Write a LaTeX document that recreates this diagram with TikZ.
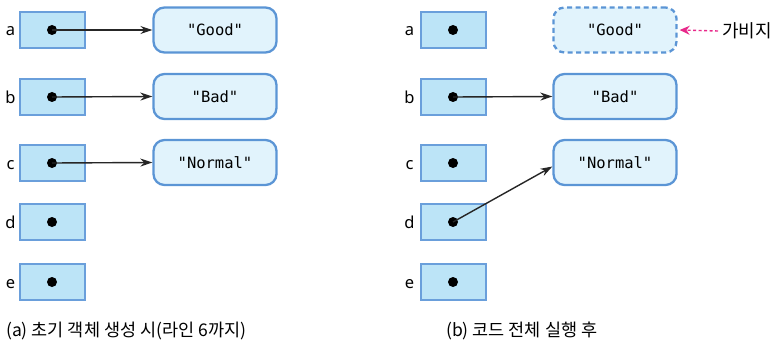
\documentclass[tikz,border=0pt]{standalone}
\usepackage{fontspec}
\setmainfont{Noto Sans}
\setmonofont{DejaVu Sans Mono}
\newfontfamily\kr{Noto Sans CJK KR}
\usetikzlibrary{arrows.meta}
\definecolor{varfill}{HTML}{BCE4F7}
\definecolor{varline}{HTML}{6A9FDB}
\definecolor{valfill}{HTML}{E1F3FC}
\definecolor{valline}{HTML}{5B95D5}
\definecolor{garb}{HTML}{E8288A}
\begin{document}
\begin{tikzpicture}[x=1pt,y=-1pt,
  varbox/.style={draw=varline,fill=varfill,line width=1.8pt,minimum width=65pt,minimum height=36pt,inner sep=0pt},
  valbox/.style={draw=valline,fill=valfill,line width=2.3pt,rounded corners=11pt,minimum width=123pt,minimum height=45pt,font=\ttfamily\fontsize{15.5}{15.5}\selectfont},
  varlabel/.style={font=\fontsize{16.5}{16.5}\selectfont,anchor=base,inner sep=0pt},
  dotnode/.style={circle,fill=black,inner sep=0pt,minimum size=10pt},
  ptr/.style={-{Stealth[length=12pt,width=8pt]},line width=1.4pt,black!85},
  caption/.style={font=\kr\fontsize{17.5}{17.5}\selectfont,anchor=base west}]
\useasboundingbox (0,0) rectangle (773,350);
% left panel
\foreach \n/\y in {a/30,b/97,c/163,d/222,e/282}{
  \node[varbox] (L\n) at (52.5,\y) {};
  \node[dotnode] (Ld\n) at (52,\y) {};
  \node[varlabel] (Ll\n) at (10.5,\y+6) {\n};
}
\node[valbox] (LG) at (215,30) {"Good"};
\node[valbox] (LB) at (215,96.5) {"Bad"};
\node[valbox] (LN) at (215,162.5) {"Normal"};
\draw[ptr] (Lda.center) -- (LG.west);
\draw[ptr] (Ldb.center) -- (LB.west);
\draw[ptr] (Ldc.center) -- (LN.west);
% right panel
\foreach \n/\y in {a/30,b/97,c/163,d/222,e/282}{
  \node[varbox] (R\n) at (453.5,\y) {};
  \node[dotnode] (Rd\n) at (453,\y) {};
  \node[varlabel] (Rl\n) at (409.5,\y+6) {\n};
}
\node[valbox,dash pattern=on 5pt off 3.5pt] (RG) at (615,30) {"Good"};
\node[valbox] (RB) at (615,96.5) {"Bad"};
\node[valbox] (RN) at (615,162.5) {"Normal"};
\draw[ptr] (Rdb.center) -- (RB.west);
\coordinate (RNin) at ([yshift=-4pt]RN.west);
\draw[ptr] (Rdd.center) -- (RNin);
\node[font=\kr\fontsize{18}{18}\selectfont,anchor=west,inner sep=0pt] (gb) at (722,31) {가비지};
\draw[garb,line width=1.4pt,dash pattern=on 3pt off 2.5pt,-{Stealth[length=10pt,width=9pt]}] ([xshift=-4pt]gb.west) -- ([xshift=2pt]RG.east);
% captions
\node[caption,inner sep=0pt] (capa) at (6,336) {(a) 초기 객체 생성 시(라인 6까지)};
\node[caption,inner sep=0pt] (capb) at (446,336) {(b) 코드 전체 실행 후};
\end{tikzpicture}
\end{document}
